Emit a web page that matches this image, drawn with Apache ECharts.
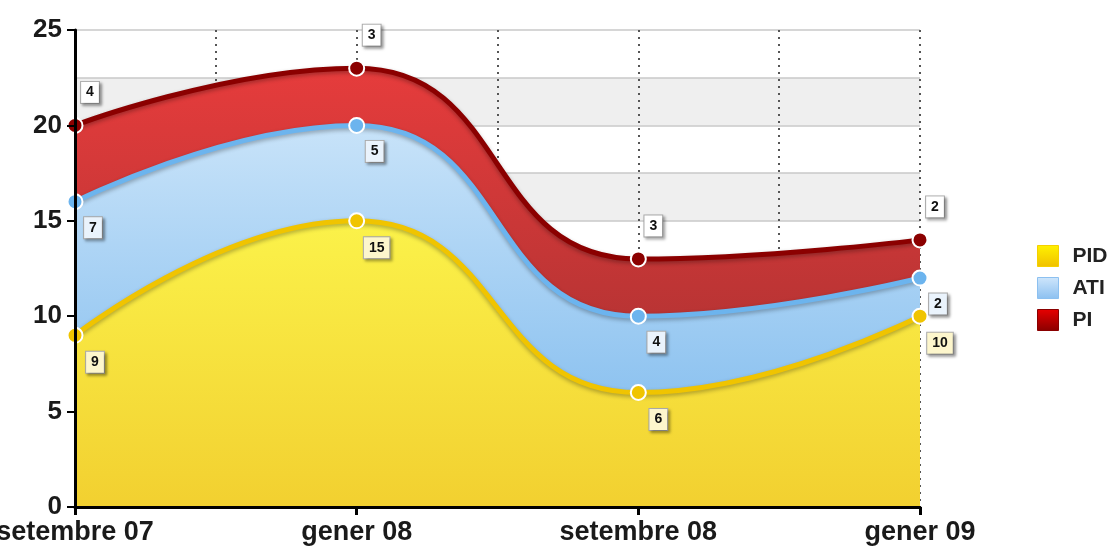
<!DOCTYPE html>
<html>
<head>
<meta charset="utf-8">
<script src="https://cdn.jsdelivr.net/npm/echarts@6/dist/echarts.min.js"></script>
<style>
  html, body { margin: 0; padding: 0; background: #fff; }
  #chart { width: 1114px; height: 550px; }
</style>
</head>
<body>
<div id="chart"></div>
<script>
// dades
var categories = ['setembre 07', 'gener 08', 'setembre 08', 'gener 09'];
var pidValues = [9, 15, 6, 10];
var atiValues = [7, 5, 4, 2];
var piValues = [4, 3, 3, 2];
var seriesNames = ['PID', 'ATI', 'PI'];

var myChart = echarts.init(document.getElementById('chart'));

function grad(c1, c2) {
  return new echarts.graphic.LinearGradient(0, 0, 0, 1, [
    { offset: 0, color: c1 },
    { offset: 1, color: c2 }
  ]);
}

// etiqueta tipus caixa
function boxLabel(bg, offset) {
  return {
    show: true,
    position: 'inside',
    offset: offset,
    color: '#111',
    fontFamily: 'Liberation Sans',
    fontWeight: 'bold',
    fontSize: 14,
    backgroundColor: bg,
    borderColor: '#aaa',
    borderWidth: 1,
    padding: [4, 5, 3, 5],
    shadowColor: 'rgba(0,0,0,0.35)',
    shadowBlur: 3,
    shadowOffsetX: 2,
    shadowOffsetY: 2
  };
}

function areaSeries(name, data, lineColor, c1, c2, label) {
  return {
    name: name,
    type: 'line',
    stack: 'total',
    smooth: 0.5,
    data: data,
    xAxisIndex: 0,
    yAxisIndex: 0,
    symbol: 'circle',
    symbolSize: 15,
    lineStyle: {
      color: lineColor,
      width: 5,
      shadowColor: 'rgba(0,0,0,0.3)',
      shadowBlur: 4,
      shadowOffsetY: 2
    },
    itemStyle: {
      color: lineColor,
      borderColor: '#fff',
      borderWidth: 2
    },
    areaStyle: {
      color: grad(c1, c2),
      opacity: 1
    },
    label: label,
    emphasis: { disabled: true }
  };
}

var option = {
  backgroundColor: '#fff',
  animation: false,
  grid: {
    left: 75,
    right: 194,
    top: 30,
    bottom: 43,
    containLabel: false,
    outerBoundsMode: 'none'
  },
  legend: {
    orient: 'vertical',
    left: 1032,
    top: 240,
    itemWidth: 21,
    itemHeight: 21,
    itemGap: 10,
    icon: 'rect',
    data: [
      { name: 'PID', itemStyle: { color: grad('#fff200', '#f0c000'), borderColor: '#f5d000', borderWidth: 1 } },
      { name: 'ATI', itemStyle: { color: grad('#cfe6fb', '#8cc0f0'), borderColor: '#8cc0f0', borderWidth: 1 } },
      { name: 'PI', itemStyle: { color: grad('#e80000', '#8a0000'), borderColor: '#8a0000', borderWidth: 1 } }
    ],
    textStyle: {
      fontFamily: 'Liberation Sans',
      fontWeight: 'bold',
      fontSize: 21,
      color: '#222',
      padding: [0, 0, 0, 9]
    }
  },
  xAxis: [
    {
      type: 'category',
      data: categories,
      boundaryGap: false,
      axisLine: { show: true, lineStyle: { color: '#000', width: 3 } },
      axisTick: { show: true, length: 8, lineStyle: { color: '#000', width: 3 } },
      axisLabel: {
        margin: 12,
        color: '#1a1a1a',
        fontFamily: 'Liberation Sans',
        fontWeight: 'bold',
        fontSize: 27
      },
      splitLine: { show: false },
      z: 5
    },
    {
      // línies verticals puntejades
      type: 'value',
      min: 0,
      max: 3,
      interval: 0.5,
      position: 'top',
      axisLine: { show: false },
      axisTick: { show: false },
      axisLabel: { show: false },
      splitLine: { show: true, lineStyle: { color: '#555', type: [2, 5], width: 2 } }
    }
  ],
  yAxis: [
    {
      type: 'value',
      min: 0,
      max: 25,
      interval: 5,
      axisLine: { show: true, lineStyle: { color: '#000', width: 3 } },
      axisTick: { show: true, length: 8, lineStyle: { color: '#000', width: 2 } },
      axisLabel: {
        margin: 13,
        color: '#1a1a1a',
        fontFamily: 'Liberation Sans',
        fontWeight: 'bold',
        fontSize: 26
      },
      splitLine: { show: false },
      z: 5
    },
    {
      // bandes horitzontals
      type: 'value',
      min: 0,
      max: 25,
      interval: 2.5,
      axisLine: { show: false },
      axisTick: { show: false },
      axisLabel: { show: false },
      splitLine: { show: true, lineStyle: { color: '#c8c8c8', width: 1.5 } },
      splitArea: { show: true, areaStyle: { color: ['#efefef', '#ffffff'] } }
    }
  ],
  series: [
    areaSeries(seriesNames[0], pidValues, '#f0c400', '#fbf24a', '#f2d030', boxLabel('#fdf6cc', [20, 27])),
    areaSeries(seriesNames[1], atiValues, '#6cb4ee', '#c8e3f9', '#8ec3f0', boxLabel('#eaf3fc', [18, 26])),
    areaSeries(seriesNames[2], piValues, '#8b0000', '#e63c3c', '#b93434', boxLabel('#ffffff', [15, -33]))
  ]
};

myChart.setOption(option);
window.addEventListener('resize', function () {
  myChart.resize();
});
</script>
</body>
</html>
